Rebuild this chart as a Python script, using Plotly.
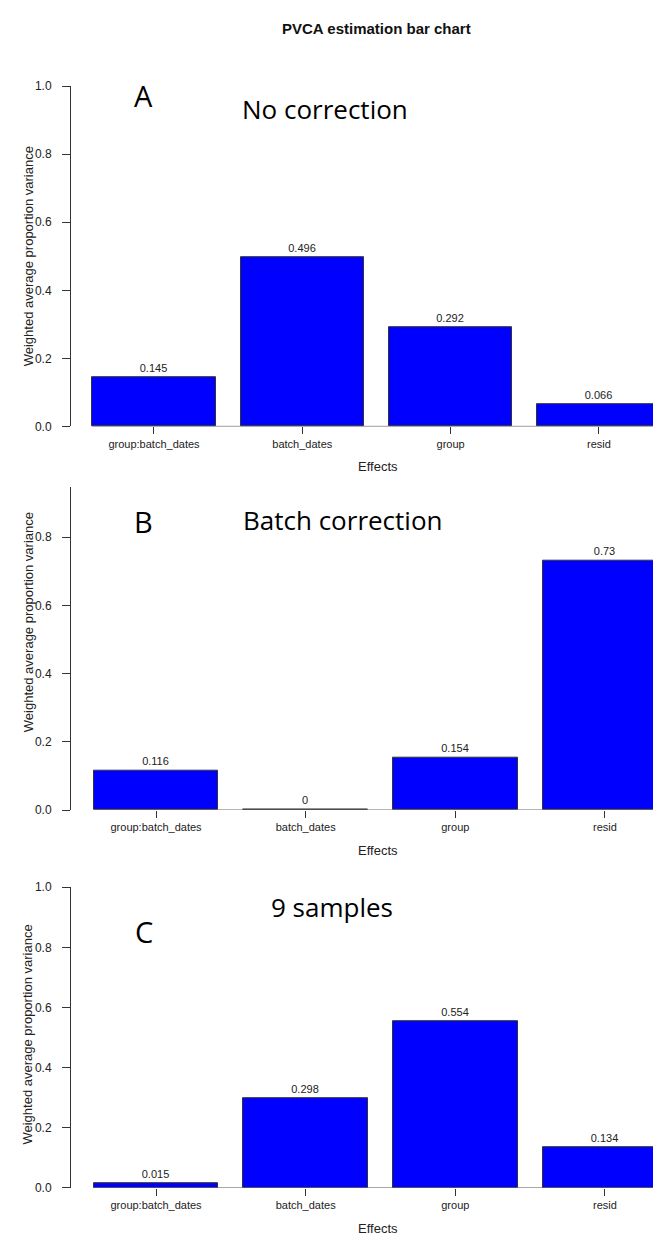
import plotly.graph_objects as go

W, H = 661, 1260

# ---- data ----
effects = ["group:batch_dates", "batch_dates", "group", "resid"]
no_correction = [0.145, 0.496, 0.292, 0.066]
batch_correction = [0.116, 0.0, 0.154, 0.73]
nine_samples = [0.015, 0.298, 0.554, 0.134]
panel_letters = ["A", "B", "C"]
panel_titles = ["No correction", "Batch correction", "9 samples"]
y_ticks = [0.0, 0.2, 0.4, 0.6, 0.8, 1.0]

series = [no_correction, batch_correction, nine_samples]

# positions like R barplot (width 1, space 0.2)
pos = [0.7 + 1.2 * i for i in range(len(effects))]

def px_x(x):
    return x / W

def px_y(y):
    return 1 - y / H

# layout geometry (pixels)
axis_left = 63
panels = [
    # (y pixel of 0, y pixel of top, y top value, x range)
    dict(y0=416, ytop=72, vtop=1.0, xr=[0.0285, 4.867]),
    dict(y0=804, ytop=477, vtop=0.948, xr=[0.018, 4.814]),
    dict(y0=1186, ytop=882, vtop=1.0, xr=[0.018, 4.814]),
]

fig = go.Figure()
font_r = "Liberation Sans, Arial, sans-serif"
font_c = "Open Sans, Noto Sans, sans-serif"

annotations = []
shapes = []
for k, (vals, p) in enumerate(zip(series, panels)):
    sfx = "" if k == 0 else str(k + 1)
    fig.add_trace(go.Bar(
        x=pos, y=vals, width=1,
        marker=dict(color="#0000FF", line=dict(color="#333333", width=1)),
        text=[f"{v:g}" for v in vals], textposition="outside",
        textfont=dict(family=font_r, size=11, color="#222222"),
        cliponaxis=False,
        xaxis="x" + sfx, yaxis="y" + sfx, showlegend=False,
        hoverinfo="x+y",
    ))
    dom_y = [px_y(p["y0"]), px_y(p["ytop"])]
    fig.layout["xaxis" + sfx] = dict(
        domain=[px_x(axis_left), 1], range=p["xr"], anchor="y" + sfx,
        tickvals=pos, ticktext=effects, ticks="outside", ticklen=7,
        tickcolor="#333333", showline=False, showgrid=False, zeroline=False,
        tickfont=dict(family=font_r, size=11, color="#222222"),
        fixedrange=True,
    )
    fig.layout["yaxis" + sfx] = dict(
        domain=dom_y, range=[0, p["vtop"]], anchor="x" + sfx,
        tickvals=[t for t in y_ticks if t <= p["vtop"]], tickformat=".1f",
        ticks="outside", ticklen=8, tickcolor="#333333",
        showline=True, linecolor="#333333", linewidth=1,
        showgrid=False, zeroline=False, ticklabelstandoff=8,
        tickfont=dict(family=font_r, size=12, color="#222222"),
        fixedrange=True,
    )
    # baseline under the bars
    shapes.append(dict(type="line", xref="x" + sfx, yref="y" + sfx,
                       x0=pos[0] - 0.5, x1=pos[-1] + 0.5, y0=0, y1=0,
                       line=dict(color="#555555", width=1)))
    # axis title x
    annotations.append(dict(text="Effects", xref="paper", yref="paper",
                            x=px_x(370), y=px_y(p["y0"] + 41),
                            xanchor="center", yanchor="middle", showarrow=False,
                            font=dict(family=font_r, size=13, color="#222222")))

# y titles
ytitle_centers = [244, 614, 1031]
for yc in ytitle_centers:
    annotations.append(dict(text="Weighted average proportion variance",
                            xref="paper", yref="paper", x=px_x(20), y=px_y(yc),
                            xanchor="center", yanchor="middle", textangle=-90,
                            showarrow=False,
                            font=dict(family=font_r, size=13, color="#222222")))

# panel letters and titles
letter_pos = [(135, 81), (135, 512), (136, 927)]
title_pos = [(317, 95), (335, 511), (324, 902)]
for L, (lx, ly), T, (tx, ty) in zip(panel_letters, letter_pos, panel_titles, title_pos):
    annotations.append(dict(text=L, xref="paper", yref="paper", x=px_x(lx), y=px_y(ly),
                            xanchor="center", yanchor="middle", showarrow=False,
                            font=dict(family=font_c, size=29, color="#000000")))
    annotations.append(dict(text=T, xref="paper", yref="paper", x=px_x(tx), y=px_y(ty),
                            xanchor="center", yanchor="middle", showarrow=False,
                            font=dict(family=font_c, size=26, color="#000000")))

# main title
annotations.append(dict(text="<b>PVCA estimation bar chart</b>", xref="paper", yref="paper",
                        x=px_x(368), y=px_y(14), xanchor="center", yanchor="middle",
                        showarrow=False,
                        font=dict(family=font_r, size=15, color="#111111")))

fig.update_layout(
    width=W, height=H, margin=dict(l=0, r=0, t=0, b=0),
    paper_bgcolor="white", plot_bgcolor="white",
    annotations=annotations, shapes=shapes, bargap=0,
)

fig.write_html("out.html")
